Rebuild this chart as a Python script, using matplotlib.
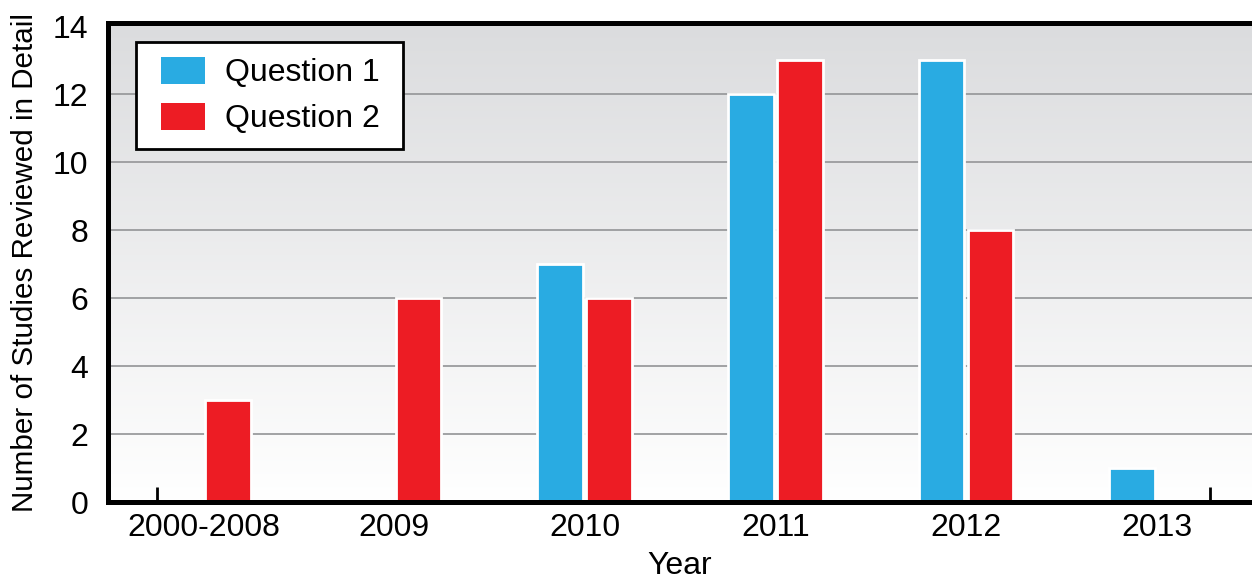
#!/usr/bin/env python3
# -*- coding: utf-8 -*-

import numpy as np
import matplotlib
matplotlib.use("Agg")
import matplotlib.pyplot as plt
from matplotlib.legend_handler import HandlerPatch
from matplotlib.container import BarContainer

# Data
years = ["2000-2008", "2009", "2010", "2011", "2012", "2013"]
question_1 = [0, 0, 7, 12, 13, 1]
question_2 = [3, 6, 6, 13, 8, 0]
y_ticks = [0, 2, 4, 6, 8, 10, 12, 14]

blue = "#29abe2"
red = "#ed1c24"

plt.rcParams["font.family"] = ["Liberation Sans", "DejaVu Sans"]

fig = plt.figure(figsize=(12.52, 5.84), dpi=100)
ax = fig.add_axes([0.0863, 0.1404, 0.9137, 0.8202])

# Gradient background: light grey at the top fading to white at the bottom
grad = np.linspace(0, 1, 256).reshape(-1, 1)
bg_cmap = matplotlib.colors.LinearSegmentedColormap.from_list(
    "bg", ["#dbdcde", "#ffffff"])
ax.imshow(grad, cmap=bg_cmap, aspect="auto", origin="upper",
          extent=[-0.5, 5.5, 0, 14.1], zorder=0)

# Gridlines
for t in y_ticks[1:-1]:
    ax.axhline(t, color="#9a9b9d", linewidth=1.3, zorder=1)

x = np.arange(len(years))
w = 0.24
off = 0.128
q1 = np.array(question_1, dtype=float)
q2 = np.array(question_2, dtype=float)
m1 = q1 > 0
m2 = q2 > 0
ax.bar(x[m1] - off, q1[m1], width=w, color=blue, edgecolor="white",
       linewidth=2, zorder=2, label="Question 1 ")
ax.bar(x[m2] + off, q2[m2], width=w, color=red, edgecolor="white",
       linewidth=2, zorder=2, label="Question 2 ")

ax.set_xlim(-0.5, 5.5)
ax.set_ylim(0, 14.1)
ax.set_yticks(y_ticks)
ax.set_xticks(x)
ax.set_xticklabels(years)
ax.set_xticks([-0.245, 5.28], minor=True)
ax.tick_params(axis="both", which="major", length=0, labelsize=23)
ax.tick_params(axis="y", pad=14)
ax.tick_params(axis="x", pad=8)
ax.tick_params(axis="x", which="minor", direction="in", length=11, width=2,
               color="black")

for s in ["top", "left", "bottom"]:
    ax.spines[s].set_linewidth(3.6)
    ax.spines[s].set_color("black")
    ax.spines[s].set_zorder(3)
ax.spines["right"].set_visible(False)

ax.set_xlabel("Year", fontsize=23, labelpad=6)
ax.set_ylabel("Number of Studies Reviewed in Detail", fontsize=21.3, labelpad=10)


def first_child(legend_handle, orig_handle):
    legend_handle.update_from(orig_handle[0])
    legend_handle.set_edgecolor("none")


# shift legend swatches right a little (extra inner padding on the left)
handler = HandlerPatch(xpad=0.34, update_func=first_child)
leg = ax.legend(loc="upper left", bbox_to_anchor=(0.024, 0.96), fontsize=23,
                frameon=True, fancybox=False, framealpha=1,
                edgecolor="black", handlelength=1.74, handleheight=0.95,
                handletextpad=0.6, borderpad=0.45, labelspacing=0.45,
                borderaxespad=0, handler_map={BarContainer: handler})
leg.get_frame().set_linewidth(2)

fig.savefig("out.png", dpi=100, facecolor="white")
